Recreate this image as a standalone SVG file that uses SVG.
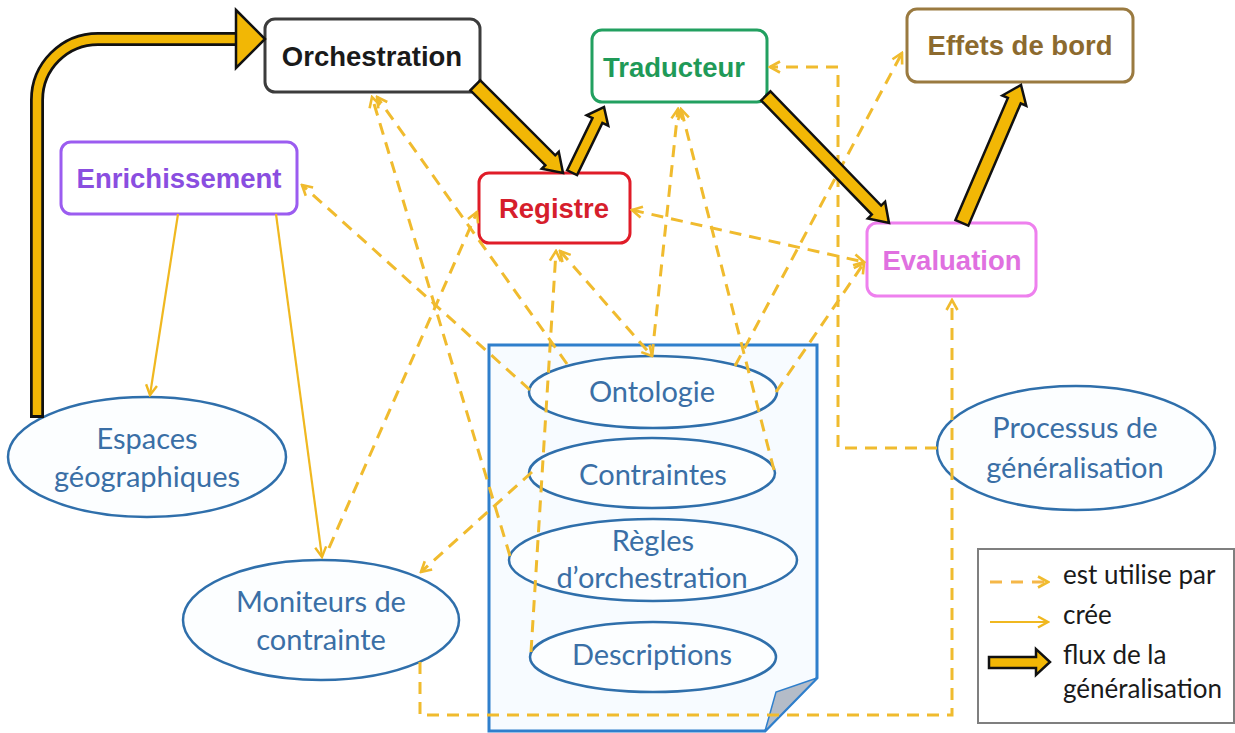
<svg xmlns="http://www.w3.org/2000/svg" width="1235" height="733" viewBox="0 0 1235 733">
<style>
.box{fill:#ffffff;stroke-width:3}
.bl{font-family:"Liberation Sans",Arial,sans-serif;font-weight:bold;font-size:27.5px;text-anchor:middle}
.el{fill:#fcfeff;stroke:#2f6fab;stroke-width:2.5}
.et{font-family:Lato,"Open Sans",sans-serif;font-size:29px;fill:#3a6fa6;text-anchor:middle}
.lt{font-family:Lato,"Open Sans",sans-serif;font-size:26px;fill:#1a1a1a}
.u{fill:none;stroke:#f0bb2e;stroke-width:3;stroke-dasharray:12 8;marker-end:url(#ah)}
.ub{marker-start:url(#ah)}
.c{fill:none;stroke:#f0b820;stroke-width:2.2;marker-end:url(#ahc)}
.fo{fill:none;stroke:#111111;stroke-width:14}
.fi{fill:none;stroke:#f2b705;stroke-width:8.5}
.fh{fill:#f2b705;stroke:#111111;stroke-width:2.5;stroke-linejoin:miter}
</style>
<defs>
<marker id="ah" viewBox="0 0 14 14" refX="12" refY="7" markerWidth="14" markerHeight="14" markerUnits="userSpaceOnUse" orient="auto-start-reverse">
<path d="M2,1.5 L12,7 L2,12.5" fill="none" stroke="#f0bb2e" stroke-width="2.6"/>
</marker>
<marker id="ahc" viewBox="0 0 14 14" refX="12" refY="7" markerWidth="14" markerHeight="14" markerUnits="userSpaceOnUse" orient="auto">
<path d="M2,1.5 L12,7 L2,12.5" fill="none" stroke="#f0b820" stroke-width="2.4"/>
</marker>
</defs>
<rect width="1235" height="733" fill="#ffffff"/>

<g id="orchestration">
<rect class="box" x="265" y="19" width="215" height="73" rx="10" stroke="#3c3c3c"/>
<text class="bl" x="372" y="66" fill="#1a1a1a">Orchestration</text>
</g>
<g id="traducteur">
<rect class="box" x="592" y="30" width="175" height="72" rx="10" stroke="#22a060"/>
<text class="bl" x="674" y="77" fill="#1f9a58">Traducteur</text>
</g>
<g id="registre">
<rect class="box" x="479" y="173" width="151" height="70" rx="10" stroke="#e01c28"/>
<text class="bl" x="554" y="218" fill="#d61e2c">Registre</text>
</g>
<g id="effets-de-bord">
<rect class="box" x="907" y="9" width="226" height="73" rx="10" stroke="#9a7a40"/>
<text class="bl" x="1020" y="55" fill="#8c6a2e">Effets de bord</text>
</g>
<g id="evaluation">
<rect class="box" x="867" y="223" width="169" height="73" rx="10" stroke="#ee80ee"/>
<text class="bl" x="952" y="270" fill="#e070e0">Evaluation</text>
</g>
<g id="enrichissement">
<rect class="box" x="61" y="142" width="236" height="72" rx="10" stroke="#9b5cf0"/>
<text class="bl" x="179" y="188" fill="#8a4ee0">Enrichissement</text>
</g>

<g id="espaces-geographiques">
<ellipse class="el" cx="147" cy="457" rx="139" ry="60"/>
<text class="et" x="147" y="449">Espaces</text>
<text class="et" x="147" y="487">géographiques</text>
</g>
<g id="moniteurs-de-contrainte">
<ellipse class="el" cx="321" cy="620" rx="138" ry="60"/>
<text class="et" x="321" y="612">Moniteurs de</text>
<text class="et" x="321" y="650">contrainte</text>
</g>
<g id="processus-de-generalisation">
<ellipse class="el" cx="1076" cy="448" rx="139" ry="62"/>
<text class="et" x="1075" y="438">Processus de</text>
<text class="et" x="1075" y="478">généralisation</text>
</g>

<g id="document">
<path d="M489,345 H817 V678 L765,731 H489 Z" fill="#f7fbff" stroke="#2f7fcc" stroke-width="3"/>
<polygon points="817,678 776,692 765,731" fill="#b4bcc8" stroke="#2f7fcc" stroke-width="1.5"/>
</g>
<g id="ontologie">
<ellipse class="el" cx="653" cy="392" rx="124" ry="36"/>
<text class="et" x="652" y="402">Ontologie</text>
</g>
<g id="contraintes">
<ellipse class="el" cx="652" cy="473" rx="123" ry="35"/>
<text class="et" x="653" y="485">Contraintes</text>
</g>
<g id="regles-orchestration">
<ellipse class="el" cx="653" cy="560" rx="144" ry="41"/>
<text class="et" x="653" y="551">Règles</text>
<text class="et" x="652" y="588">d’orchestration</text>
</g>
<g id="descriptions">
<ellipse class="el" cx="653" cy="657" rx="123" ry="35"/>
<text class="et" x="652" y="665">Descriptions</text>
</g>

<g id="connectors">
<!-- est utilise par -->
<path class="u" d="M510,556 L372,97"/>
<path class="u" d="M567,364 L377,97"/>
<path class="u" d="M530,390 L302,185"/>
<path class="u" d="M329,548 L477,212"/>
<path class="u" d="M531,652 L556,251"/>
<path class="u ub" d="M560,251 L652,356"/>
<path class="u" d="M652,356 L678,109"/>
<path class="u" d="M774,470 L681,109"/>
<path class="u" d="M735,366 L902,53"/>
<path class="u" d="M776,392 L864,263"/>
<path class="u ub" d="M632,210 L864,262"/>
<path class="u" d="M937,448 H838 V67 H770"/>
<path class="u" d="M420,662 V715 H952 V300"/>
<path class="u" d="M532,472 L421,572"/>
<!-- cree -->
<path class="c" d="M178,214 L150,395"/>
<path class="c" d="M276,214 L322,557"/>
<!-- flux de la generalisation -->
<path class="fo" d="M37,418 V100 A61,61 0 0 1 98,39 H240"/>
<path class="fi" d="M37,415 V100 A61,61 0 0 1 98,39 H240"/>
<polygon class="fh" points="236,10 265,39 236,68"/>
<g transform="translate(563,173) rotate(45)">
<polygon class="fh" points="-124,-7 -18,-7 -18,-12 0,0 -18,12 -18,7 -124,7"/>
</g>
<g transform="translate(604,107) rotate(-64.1)">
<polygon class="fh" points="-73,-5.5 -15,-5.5 -15,-12 0,0 -15,12 -15,5.5 -73,5.5"/>
</g>
<g transform="translate(889,223) rotate(45.9)">
<polygon class="fh" points="-177,-6.5 -18,-6.5 -18,-12 0,0 -18,12 -18,6.5 -177,6.5"/>
</g>
<g transform="translate(1021,85) rotate(-66.8)">
<polygon class="fh" points="-150,-7 -17,-7 -17,-13 0,0 -17,13 -17,7 -150,7"/>
</g>
</g>

<g id="legend">
<rect x="978" y="549" width="256" height="174" fill="#ffffff" stroke="#7f7f7f" stroke-width="2"/>
<path class="u" d="M990,582 H1048" style="stroke:#f5b748;stroke-dasharray:12 9"/>
<text class="lt" x="1063" y="584">est utilise par</text>
<path class="c" d="M990,622 H1048"/>
<text class="lt" x="1063" y="624">crée</text>
<polygon class="fh" points="989,657 1036,657 1036,649 1050,662 1036,675 1036,668 989,668"/>
<text class="lt" x="1063" y="664">flux de la</text>
<text class="lt" x="1063" y="698">généralisation</text>
</g>
</svg>
